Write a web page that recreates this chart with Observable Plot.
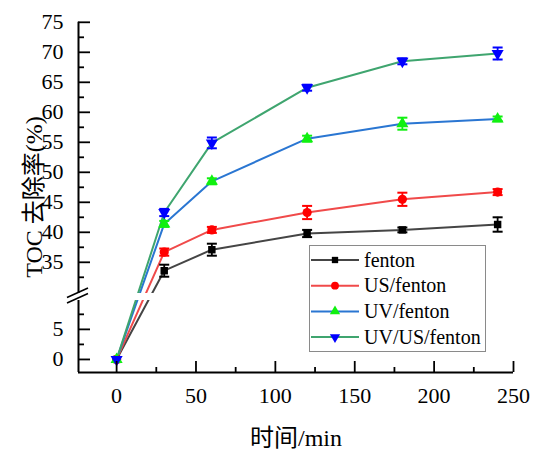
<!DOCTYPE html>
<html>
<head>
<meta charset="utf-8">
<script src="https://cdn.jsdelivr.net/npm/d3@7"></script>
<script src="https://cdn.jsdelivr.net/npm/@observablehq/plot@0.6"></script>
<style>
  html, body { margin: 0; padding: 0; background: #fff; }
  #chart { position: relative; width: 538px; height: 451px; }
  #chart svg text { font-family: 'Liberation Serif', 'Noto Sans CJK SC', serif; }
</style>
</head>
<body>
<div id="chart"></div>
<script>
// ---- data ----
const time = [0, 30, 60, 120, 180, 240];
const seriesNames = ["fenton", "US/fenton", "UV/fenton", "UV/US/fenton"];
const fenton      = [0, 33.6, 37.1, 39.8, 40.4, 41.3];
const fentonErr   = [0, 1.0, 1.0, 0.6, 0.4, 1.2];
const usFenton    = [0, 36.7, 40.4, 43.3, 45.5, 46.7];
const usFentonErr = [0, 0.6, 0.5, 1.1, 1.1, 0.5];
const uvFenton    = [0, 41.4, 48.5, 55.6, 58.1, 58.9];
const uvFentonErr = [0, 0.5, 0.5, 0.5, 1.0, 0.4];
const uvUsFenton    = [0, 43.3, 54.9, 64.1, 68.5, 69.8];
const uvUsFentonErr = [0, 0.6, 0.9, 0.5, 0.5, 1.0];

const xTicks = [0, 50, 100, 150, 200, 250];
const xMinorTicks = [25, 75, 125, 175, 225];
const yTicks = [0, 5, 35, 40, 45, 50, 55, 60, 65, 70, 75];
const yMinorTicks = [2.5, 7.5, 32.5, 37.5, 42.5, 47.5, 52.5, 57.5, 62.5, 67.5, 72.5];
const xLabel = "时间/min";
const yLabel = "TOC 去除率(%)";

// ---- styling / layout ----
const FONT = "'Liberation Serif', 'Noto Sans CJK SC', serif";
const lineColors   = ["#454545", "#f04a4a", "#2a76d2", "#3fa56f"];
const markerColors = ["#000000", "#ff0000", "#10f010", "#0000ff"];
const sqrt3 = Math.sqrt(3);
const triDown = {
  draw(ctx, size) {
    const y = Math.sqrt(size / (sqrt3 * 3));
    ctx.moveTo(0, y * 2);
    ctx.lineTo(-sqrt3 * y, -y);
    ctx.lineTo(sqrt3 * y, -y);
    ctx.closePath();
  }
};
const capSym = { draw(ctx) { ctx.moveTo(-5, 0); ctx.lineTo(5, 0); } };
const symbols = [d3.symbolSquare, d3.symbolCircle, d3.symbolTriangle, triDown];
const radii = [4.2, 4.6, 4.5, 4.5];

const xMin = -24, xMax = 250;
const yMin = -2.17, brkLo = 9.8, brkHi = 29.8, yMax = 75;

const values = [fenton, usFenton, uvFenton, uvUsFenton];
const errs = [fentonErr, usFentonErr, uvFentonErr, uvUsFentonErr];
const rows = [];
seriesNames.forEach((s, i) => time.forEach((t, j) => rows.push({
  s, i, t, v: values[i][j], e: errs[i][j]
})));
const errRows = rows.filter(d => d.e > 0);

const W = 538, H = 451;
const marks = [];
// lines
seriesNames.forEach((s, i) => {
  marks.push(Plot.line(rows.filter(d => d.i === i), {x: "t", y: "v", stroke: lineColors[i], strokeWidth: 2}));
});
// white patch where the axis is broken
marks.push(Plot.rect([{}], {x1: xMin, x2: xMax, y1: brkLo, y2: brkHi, fill: "white"}));
// error bars
seriesNames.forEach((s, i) => {
  const er = errRows.filter(d => d.i === i);
  marks.push(Plot.ruleX(er, {x: "t", y1: d => d.v - d.e, y2: d => d.v + d.e, stroke: markerColors[i], strokeWidth: 1.8}));
  marks.push(Plot.dot(er, {x: "t", y: d => d.v - d.e, symbol: capSym, stroke: markerColors[i], strokeWidth: 2, fill: "none", r: 3}));
  marks.push(Plot.dot(er, {x: "t", y: d => d.v + d.e, symbol: capSym, stroke: markerColors[i], strokeWidth: 2, fill: "none", r: 3}));
});
// markers
seriesNames.forEach((s, i) => {
  marks.push(Plot.dot(rows.filter(d => d.i === i), {x: "t", y: "v", symbol: symbols[i], r: radii[i], fill: markerColors[i], stroke: "none"}));
});
// axis lines
marks.push(Plot.ruleX([{y1: yMin, y2: brkLo}, {y1: brkHi, y2: yMax}], {x: () => xMin, y1: "y1", y2: "y2", stroke: "black", strokeWidth: 2}));
marks.push(Plot.ruleY([yMin], {x1: xMin, x2: xMax, stroke: "black", strokeWidth: 2}));
// ticks (inward)
marks.push(Plot.axisY({ticks: yTicks, tickSize: -12, tickFormat: () => "", label: null, strokeWidth: 1.8}));
marks.push(Plot.axisY({ticks: yMinorTicks, tickSize: -6, tickFormat: () => "", label: null, strokeWidth: 1.8}));
marks.push(Plot.axisY({ticks: yTicks, tickSize: 0, tickPadding: 15, fontSize: 22, fontFamily: FONT, label: null, fill: "black"}));
marks.push(Plot.axisX({ticks: xTicks, tickSize: -11, tickFormat: () => "", label: null, strokeWidth: 1.8}));
marks.push(Plot.axisX({ticks: xMinorTicks, tickSize: -5, tickFormat: () => "", label: null, strokeWidth: 1.8}));
marks.push(Plot.axisX({ticks: xTicks, tickSize: 0, tickPadding: 15, fontSize: 22, fontFamily: FONT, label: null, fill: "black"}));
// axis titles
marks.push(Plot.text([yLabel], {text: d => d, frameAnchor: "left", textAnchor: "middle", lineAnchor: "middle", rotate: -90, dx: -44, fontSize: 24, fontFamily: FONT, fill: "black"}));
marks.push(Plot.text([xLabel], {text: d => d, frameAnchor: "bottom", textAnchor: "middle", lineAnchor: "middle", dy: 66, fontSize: 24, fontFamily: FONT, fill: "black"}));

const plot = Plot.plot({
  width: W,
  height: H,
  marginLeft: 78,
  marginRight: 25,
  marginTop: 21,
  marginBottom: 79,
  style: {fontFamily: FONT, background: "white", color: "black", overflow: "visible"},
  x: {type: "linear", domain: [xMin, xMax]},
  y: {type: "linear", domain: [yMin, brkLo, brkHi, yMax], range: [372, 300, 293, 21.8]},
  marks
});
document.getElementById("chart").appendChild(plot);

// axis-break slashes and legend, positioned with the plot's scales / layout
const svg = d3.select(plot);
const ys = plot.scale("y"), xs = plot.scale("x");
const ax = xs.apply(xMin);
const yTop = ys.apply(brkHi), yBot = ys.apply(brkLo);
const g = svg.append("g").attr("stroke", "black").attr("stroke-width", 1.6);
[yTop - 0.5, yBot - 2].forEach(yc => {
  g.append("line").attr("x1", ax - 11).attr("y1", yc + 5).attr("x2", ax + 10).attr("y2", yc - 4.5);
});

// legend
const lg = svg.append("g").attr("font-family", FONT).attr("font-size", 20).attr("text-anchor", "start");
lg.append("rect").attr("x", 309.5).attr("y", 245.5).attr("width", 176).attr("height", 106)
  .attr("fill", "white").attr("stroke", "#8a8a8a").attr("stroke-width", 1);
seriesNames.forEach((s, i) => {
  const yy = 260 + i * 25.7;
  lg.append("line").attr("x1", 311).attr("x2", 359).attr("y1", yy).attr("y2", yy)
    .attr("stroke", lineColors[i]).attr("stroke-width", 2);
  lg.append("path").attr("transform", `translate(335,${yy})`)
    .attr("d", d3.symbol(symbols[i], Math.PI * (radii[i] * 0.85) ** 2)())
    .attr("fill", markerColors[i]);
  lg.append("text").attr("x", 364).attr("y", yy).attr("dy", "0.33em").attr("fill", "black").text(s);
});
</script>
</body>
</html>
